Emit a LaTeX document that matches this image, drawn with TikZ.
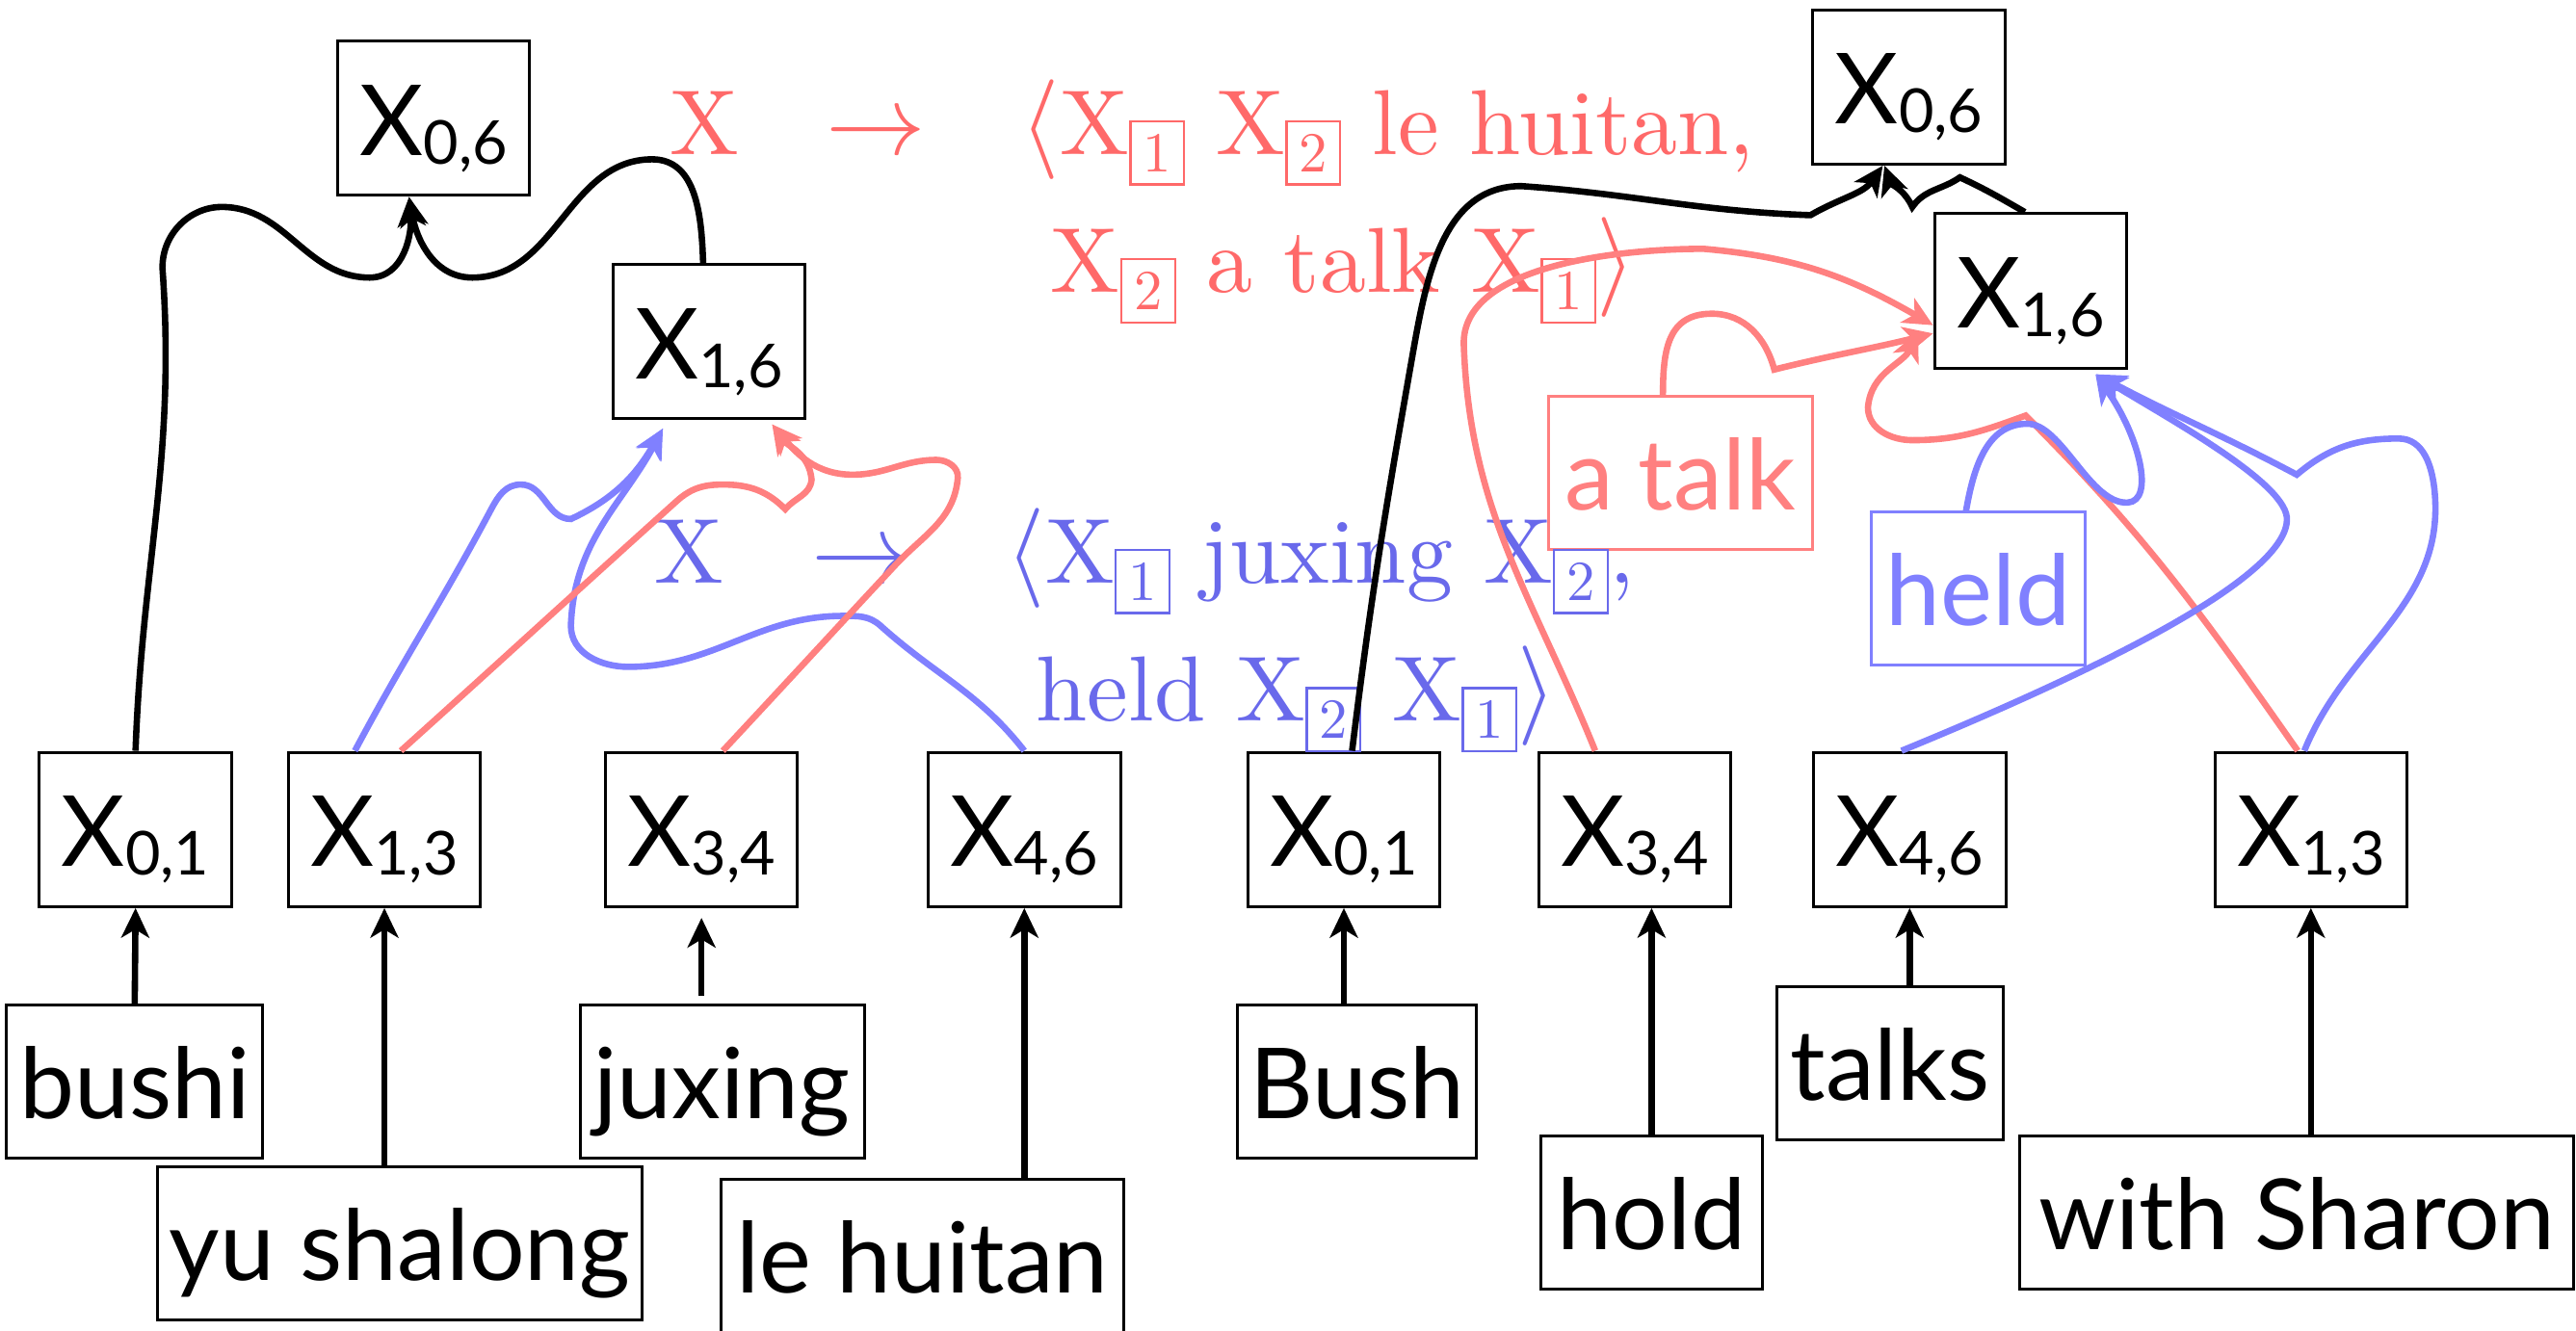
\documentclass[tikz,border=0pt]{standalone}
\usepackage{fontspec}
\usepackage{tikz}
\usetikzlibrary{arrows.meta}
\newfontfamily\gillfont{Lato}
\newfontfamily\rulefont{lmroman10-regular}[Extension=.otf]
\definecolor{ruleRed}{RGB}{255,105,105}
\definecolor{linkRed}{RGB}{255,128,128}
\definecolor{ruleBlue}{RGB}{105,105,235}
\definecolor{linkBlue}{RGB}{128,128,255}
\newcommand{\xsub}[1]{\raisebox{-1.5pt}{\fontsize{10.5}{10.5}\selectfont #1}}
\newcommand{\slotbox}[1]{\raisebox{-3pt}{\fboxsep=2pt\fboxrule=0.4pt\fbox{\fontsize{9.8}{9.8}\selectfont #1}}}

\begin{document}
\begin{tikzpicture}[>={Stealth[length=1.8mm,width=1.7mm,inset=0.5mm]},
   font=\gillfont\fontsize{17}{20}\selectfont,
   xbox/.style={draw,line width=0.5pt,minimum width=1.17cm,minimum height=0.94cm,inner sep=0pt,text height=0.45cm,text depth=0pt},
   word/.style={draw,line width=0.5pt,minimum height=0.93cm,inner sep=0pt,text height=0.45cm,text depth=0pt},
   link/.style={->,line width=1.1pt},
   redlink/.style={link,draw=linkRed},
   bluelink/.style={link,draw=linkBlue},
   rulered/.style={anchor=base west,inner sep=0pt,text=ruleRed,font=\rulefont\fontsize{16}{19}\selectfont},
   ruleblue/.style={anchor=base west,inner sep=0pt,text=ruleBlue,font=\rulefont\fontsize{16}{19}\selectfont}]
  \useasboundingbox (0,0) rectangle (15.68,8.10);
  \node[xbox] (x06l) at (2.64,7.38) {X\xsub{0,6}};
  \node[xbox] (x16l) at (4.315,6.02) {X\xsub{1,6}};
  \node[xbox] (x01l) at (0.825,3.05) {X\xsub{0,1}};
  \node[xbox] (x13l) at (2.34,3.05) {X\xsub{1,3}};
  \node[xbox] (x34l) at (4.27,3.05) {X\xsub{3,4}};
  \node[xbox] (x46l) at (6.235,3.05) {X\xsub{4,6}};
  \node[word,minimum width=1.56cm] (bushi) at (0.82,1.515) {bushi};
  \node[word,minimum width=2.95cm] (yushalong) at (2.435,0.53) {yu shalong};
  \node[word,minimum width=1.73cm] (juxing) at (4.395,1.515) {juxing};
  \node[word,minimum width=2.45cm] (lehuitan) at (5.615,0.455) {le huitan};
  \node[xbox] (x06r) at (11.62,7.57) {X\xsub{0,6}};
  \node[xbox] (x16r) at (12.36,6.33) {X\xsub{1,6}};
  \node[xbox] (x01r) at (8.18,3.05) {X\xsub{0,1}};
  \node[xbox] (x34r) at (9.95,3.05) {X\xsub{3,4}};
  \node[xbox] (x46r) at (11.624,3.05) {X\xsub{4,6}};
  \node[xbox] (x13r) at (14.066,3.05) {X\xsub{1,3}};
  \node[word,minimum width=1.455cm] (bush) at (8.26,1.515) {Bush};
  \node[word,minimum width=1.346cm] (hold) at (10.053,0.717) {hold};
  \node[word,minimum width=1.38cm] (talks) at (11.506,1.626) {talks};
  \node[word,minimum width=3.37cm] (sharon) at (13.98,0.717) {with Sharon};
  \node[word,draw=linkRed,text=linkRed,minimum width=1.606cm] (atalk) at (10.227,5.22) {a talk};
  \node[word,draw=linkBlue,text=linkBlue,minimum width=1.30cm] (held) at (12.042,4.516) {held};
  \node[rulered] (redA) at (4.07,7.16) {X\hspace{0.53cm}$\rightarrow$\hspace{0.58cm}$\langle$X\slotbox{1} X\slotbox{2} le huitan,};
  \node[rulered] (redB) at (6.39,6.32) {X\slotbox{2} a talk X\slotbox{1}$\rangle$};
  \node[ruleblue] (blueA) at (3.98,4.55) {X\hspace{0.53cm}$\rightarrow$\hspace{0.58cm}$\langle$X\slotbox{1} juxing X\slotbox{2},};
  \node[ruleblue] (blueB) at (6.30,3.71) {held X\slotbox{2} X\slotbox{1}$\rangle$};
  \draw[link] (bushi.north) -- (x01l.south);
  \draw[link] (x13l.south |- yushalong.north) -- (x13l.south);
  \draw[link,shorten <=0.5mm,shorten >=0.6mm] (x34l.south |- juxing.north) -- (x34l.south);
  \draw[link] (x46l.south |- lehuitan.north) -- (x46l.south);
  \draw[link] (x01r.south |- bush.north) -- (x01r.south);
  \draw[link] (hold.north) -- (hold.north |- x34r.south);
  \draw[link] (x46r.south |- talks.north) -- (x46r.south);
  \draw[link] (x13r.south |- sharon.north) -- (x13r.south);
  \draw[link] (x01l.north) to[out=88,in=-86] (0.99,6.45) to[out=94,in=180] (1.35,6.84) to[out=0,in=180] (2.25,6.41) to[out=0,in=-85] ([xshift=-1.5mm]x06l.south);
  \draw[link] ([xshift=-0.35mm]x16l.north) to[out=92,in=0] (3.97,7.13) to[out=180,in=0] (2.875,6.41) to[out=180,in=-80] ([xshift=-1.5mm]x06l.south);
  \draw[bluelink] ([xshift=-1.8mm]x13l.north) to[out=62,in=242] (2.99,5.0) to[out=62,in=180] (3.17,5.15) to[out=0,in=180] (3.475,4.94) to[out=25,in=240] ([xshift=-2.8mm,yshift=-0.5mm]x16l.south);
  \draw[bluelink] (x46l.north) to[out=128,in=-42] (5.36,4.29) to[out=138,in=0] (5.13,4.35) to[out=180,in=0] (3.825,4.04) to[out=180,in=-90] (3.475,4.29) to[out=88,in=242] ([xshift=-2.8mm,yshift=-0.5mm]x16l.south);
  \draw[redlink] ([xshift=1mm]x13l.north) to[out=42,in=222] (4.12,5.05) to[out=42,in=180] (4.40,5.15) to[out=0,in=135] (4.78,5.0) to[out=50,in=-95] (4.94,5.18) to[out=95,in=-55] ([xshift=3.85mm,yshift=-0.25mm]x16l.south);
  \draw[redlink] ([xshift=1.3mm]x34l.north) to[out=47,in=227] (5.45,4.66) to[out=47,in=-95] (5.83,5.19) to[out=85,in=0] (5.70,5.30) to[out=180,in=0] (5.19,5.21) to[out=180,in=-50] ([xshift=3.85mm,yshift=-0.25mm]x16l.south);
  \draw[link] ([xshift=0.5mm]x01r.north) to[out=83,in=-100] (8.60,5.95) to[out=80,in=180] (9.26,6.967) to[out=-4,in=178] (11.02,6.79) to[out=30,in=235] ([xshift=-1.6mm]x06r.south);
  \draw[link] ([xshift=-0.35mm]x16r.north) to[out=150,in=-25] (11.93,7.02) to[out=215,in=55] (11.64,6.84) to[out=115,in=-70] ([xshift=-1.5mm]x06r.south);
  \draw[redlink] ([xshift=-2.4mm]x34r.north) to[out=112,in=-88] (8.91,6.0) to[out=92,in=180,looseness=0.8] (10.37,6.585) to[out=-5,in=150] ([yshift=-2.1mm]x16r.west);
  \draw[redlink] ([xshift=-1.05mm]atalk.north) to[out=90,in=180,looseness=1.2] (10.42,6.19) to[out=0,in=105] (10.80,5.85) to[out=14,in=194] ([yshift=-2.6mm]x16r.west);
  \draw[redlink] ([xshift=-0.8mm]x13r.north) to[out=125,in=-45] (12.33,5.57) to[out=200,in=0] (11.64,5.42) to[out=180,in=-90] (11.37,5.62) to[out=85,in=245] ([xshift=-0.9mm,yshift=-2.5mm]x16r.west);
  \draw[bluelink] ([xshift=-0.75mm]held.north) to[out=80,in=180] (12.34,5.52) .. controls (12.55,5.52) and (12.72,5.03) .. (12.95,5.04) .. controls (13.12,5.05) and (13.02,5.45) .. ([xshift=3.95mm,yshift=-0.3mm]x16r.south);
  \draw[bluelink] ([xshift=-0.5mm]x46r.north) .. controls (12.6,3.95) and (13.9,4.55) .. (13.92,4.93) .. controls (13.94,5.15) and (13.2,5.55) .. ([xshift=4mm,yshift=-0.3mm]x16r.south);
  \draw[bluelink] ([xshift=-0.4mm]x13r.north) to[out=68,in=-85] (14.82,5.1) to[out=95,in=0] (14.60,5.43) to[out=180,in=40] (13.98,5.21) to[out=152,in=-28] ([xshift=4mm,yshift=-0.3mm]x16r.south);
\end{tikzpicture}
\end{document}
